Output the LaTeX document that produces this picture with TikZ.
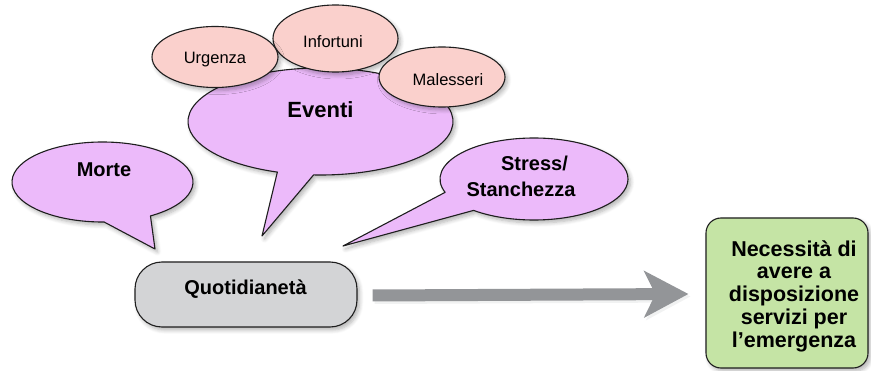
\documentclass[tikz,border=0pt]{standalone}
\usepackage{fontspec}
\setmainfont{Liberation Sans}
\usetikzlibrary{arrows.meta,shadows.blur}
\definecolor{bubblefill}{RGB}{236,186,250}
\definecolor{pinkfill}{RGB}{250,208,204}
\definecolor{greenfill}{RGB}{197,228,165}
\definecolor{grayfill}{RGB}{211,212,214}
\definecolor{arrowgray}{RGB}{147,149,152}
\definecolor{edgecol}{RGB}{30,30,30}
\tikzset{
  myshadow/.style={blur shadow={shadow blur steps=6, shadow xshift=2.5pt, shadow yshift=-3pt, shadow opacity=30, shadow blur radius=4pt}},
  bubble/.style={fill=bubblefill, draw=edgecol, line width=1.1pt, line join=round, myshadow},
  pinkell/.style={fill=pinkfill, draw=edgecol, line width=1.1pt, myshadow},
  lbl/.style={font=\fontsize{16.5}{19}\selectfont, inner sep=0pt, anchor=base},
  blbl/.style={font=\bfseries\fontsize{20}{23}\selectfont, inner sep=0pt, anchor=base},
  boxnode/.style={draw=edgecol, line width=1.1pt, myshadow, inner sep=0pt},
}
\begin{document}
\begin{tikzpicture}[x=1pt,y=1pt]
\useasboundingbox (0,0) rectangle (871,370);
% Eventi bubble
\path[bubble] (320.5,248.5) ++({132.5*cos(267)},{53.5*sin(267)})
  arc[start angle=267, end angle=611, x radius=132.5pt, y radius=53.5pt] -- (262,134) -- cycle;
% Pink ellipses
\path[pinkell] (335.5,331.5) ellipse[x radius=62.5pt, y radius=33.5pt];
\path[pinkell] (215,313) ellipse[x radius=63pt, y radius=30.5pt];
\path[pinkell] (442,293) ellipse[x radius=63pt, y radius=30pt];
% Morte bubble
\path[bubble] (102.5,188) ++({90.5*cos(-58)},{40*sin(-58)})
  arc[start angle=-58, end angle=271, x radius=90.5pt, y radius=40pt] -- (155,121) -- cycle;
% Stress bubble
\path[bubble] (534,191) ++({94*cos(230)},{41*sin(230)})
  arc[start angle=230, end angle=559, x radius=94pt, y radius=41pt] -- (343,124) -- cycle;
% Labels
\node[lbl] (urg) at (215,306.7) {Urgenza};
\node[lbl] (inf) at (333,322.7) {Infortuni};
\node[lbl] (mal) at (448,284) {Malesseri};
\node[blbl, font=\bfseries\fontsize{22}{25}\selectfont] (ev) at (320.5,252.3) {Eventi};
\node[blbl] (mor) at (104,193.3) {Morte};
\node[font=\bfseries\fontsize{20}{26}\selectfont, inner sep=0pt, text width=130pt, align=center] (str) at (521,194) {\hspace*{27pt}Stress/\\Stanchezza};
% Boxes
\node[boxnode, fill=grayfill, rounded corners=27pt, minimum width=222pt, minimum height=65pt] (q) at (246,75.5) {};
\node[font=\bfseries\fontsize{20}{23}\selectfont, inner sep=0pt, anchor=base] (qt) at (245.5,75) {Quotidianetà};
\node[boxnode, fill=greenfill, rounded corners=15pt, minimum width=162pt, minimum height=150pt] (g) at (787,77) {};
\node[font=\bfseries\fontsize{21.5}{22.75}\selectfont, inner sep=0pt] (gt) at (794,73)
  {\begin{tabular}{@{}c@{}}Necessità di\\avere a\\disposizione\\servizi per\\l’emergenza\end{tabular}};
% Arrow
\draw[arrowgray!50, opacity=0.25, line width=12pt, -{Stealth[length=44pt,width=46pt,inset=11pt]}]
  ([xshift=17pt,yshift=-3.5pt]q.east) -- ([xshift=-15pt,yshift=-3.5pt]g.west);
\draw[arrowgray, line width=12pt, -{Stealth[length=44pt,width=46pt,inset=11pt]}]
  ([xshift=15pt,yshift=-1pt]q.east) -- ([xshift=-17pt,yshift=-1pt]g.west);
\end{tikzpicture}
\end{document}
